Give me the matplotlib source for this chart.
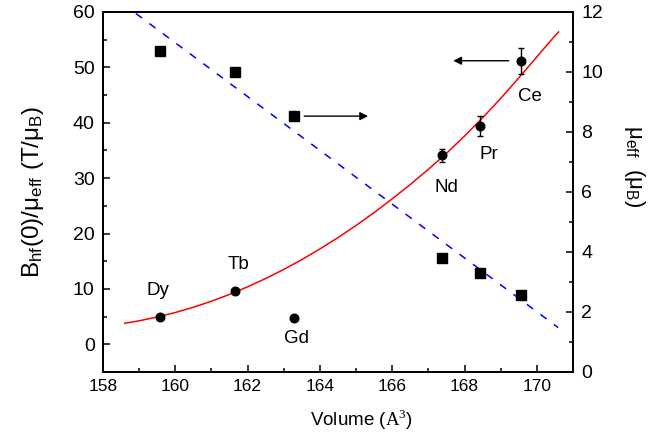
import matplotlib
matplotlib.use("Agg")
import matplotlib.pyplot as plt
from matplotlib.ticker import MultipleLocator

plt.rcParams['font.family'] = ['Liberation Sans', 'DejaVu Sans']
plt.rcParams['mathtext.fontset'] = 'custom'
plt.rcParams['mathtext.rm'] = 'Liberation Serif'
plt.rcParams['mathtext.sf'] = 'Liberation Sans'
plt.rcParams['mathtext.it'] = 'Liberation Sans:italic'

# Du lieu doc tu hinh
elements = ['Dy', 'Tb', 'Gd', 'Nd', 'Pr', 'Ce']
volume = [159.57, 161.66, 163.28, 167.38, 168.44, 169.56]
bhf_mu = [5.0, 9.6, 4.7, 34.1, 39.5, 51.2]          # truc trai, T/muB
bhf_err = [0, 0, 0, 1.1, 1.8, 2.35]
mu_eff = [10.69, 10.0, 8.52, 3.79, 3.30, 2.58]       # truc phai, muB

# duong fit (do) doc theo diem tren hinh
fit_v = [158.6, 159.0, 159.6, 160.0, 160.5, 161.0, 161.5, 162.0, 162.5, 163.0,
         163.5, 164.0, 164.5, 165.0, 165.5, 166.0, 166.5, 167.0, 167.5, 168.0,
         168.5, 169.0, 169.5, 170.0, 170.5, 170.6]
fit_b = [3.80, 4.24, 5.08, 5.74, 6.69, 7.78, 9.01, 10.38, 11.88, 13.52,
         15.30, 17.22, 19.27, 21.46, 23.79, 26.26, 28.86, 31.60, 34.48, 37.6,
         40.9, 44.4, 48.1, 51.9, 55.7, 56.4]

# duong thang (xanh, net dut)
line_v = [158.91, 170.59]
line_mu = [11.95, 1.48]

# vi tri nhan
label_v = [159.52, 161.74, 163.35, 167.5, 168.68, 169.81]
label_b = [9.7, 14.4, 1.1, 28.3, 34.3, 44.8]

fig = plt.figure(figsize=(6.63, 4.37), dpi=100)
ax = fig.add_axes([103 / 663, 1 - 372 / 437, 470 / 663, 360 / 437])
ax2 = ax.twinx()

ax.plot(fit_v, fit_b, color='red', lw=1.1, zorder=2)
ax.errorbar(volume, bhf_mu, yerr=bhf_err, fmt='o', color='black', ms=6.2,
            capsize=2.5, elinewidth=1, capthick=1, zorder=3)

ax2.plot(line_v, line_mu, color='#0000ff', lw=1.1, dashes=(5, 6), zorder=2)
ax2.plot(volume, mu_eff, 's', color='black', ms=7.4, zorder=3)

for name, x, y in zip(elements, label_v, label_b):
    ax.text(x, y, name, ha='center', va='center', fontsize=13.5)

# mui ten chi truc
ax.annotate('', xy=(167.61, 51.2), xytext=(169.30, 51.2),
            arrowprops=dict(arrowstyle='-|>', color='black', lw=1, mutation_scale=12))
ax.annotate('', xy=(165.41, 41.2), xytext=(163.49, 41.2),
            arrowprops=dict(arrowstyle='-|>', color='black', lw=1, mutation_scale=12))

ax.set_xlim(158, 171)
ax.set_ylim(-5, 60)
ax2.set_ylim(0, 12)

ax.xaxis.set_major_locator(MultipleLocator(2))
ax.xaxis.set_minor_locator(MultipleLocator(1))
ax.yaxis.set_major_locator(MultipleLocator(10))
ax.yaxis.set_minor_locator(MultipleLocator(5))
ax2.yaxis.set_major_locator(MultipleLocator(2))
ax2.yaxis.set_minor_locator(MultipleLocator(1))

ax.set_xticks([158, 160, 162, 164, 166, 168, 170])
ax.set_yticks([0, 10, 20, 30, 40, 50, 60])

for a in (ax, ax2):
    for s in a.spines.values():
        s.set_linewidth(1.3)
ax.tick_params(which='both', direction='in', top=False, right=False, width=1.1)
ax.tick_params(which='major', length=5)
ax.tick_params(which='minor', length=3)
ax.tick_params(axis='y', labelsize=14, pad=6)
ax.tick_params(axis='x', labelsize=12.5, pad=5)
ax2.tick_params(which='both', direction='in', width=1.1, labelsize=14, pad=6)
ax2.tick_params(which='major', length=5)
ax2.tick_params(which='minor', length=3)

ax.set_xlabel(r'Volume ($\mathrm{A}^{3}$)', fontsize=13.5)
ax.xaxis.set_label_coords(0.55, -0.10)
ax.set_ylabel(r'B$_{\mathsf{hf}}$(0)/μ$_{\mathsf{eff}}$ (T/μ$_{\mathsf{B}}$)', fontsize=17.5)
ax.yaxis.set_label_coords(-0.122, 0.5)
ax2.set_ylabel(r'μ$_{\mathsf{eff}}$  (μ$_{\mathsf{B}}$)', fontsize=16, rotation=270, va='bottom')
ax2.yaxis.set_label_coords(1.105, 0.57)

fig.savefig('out.png', dpi=100)
